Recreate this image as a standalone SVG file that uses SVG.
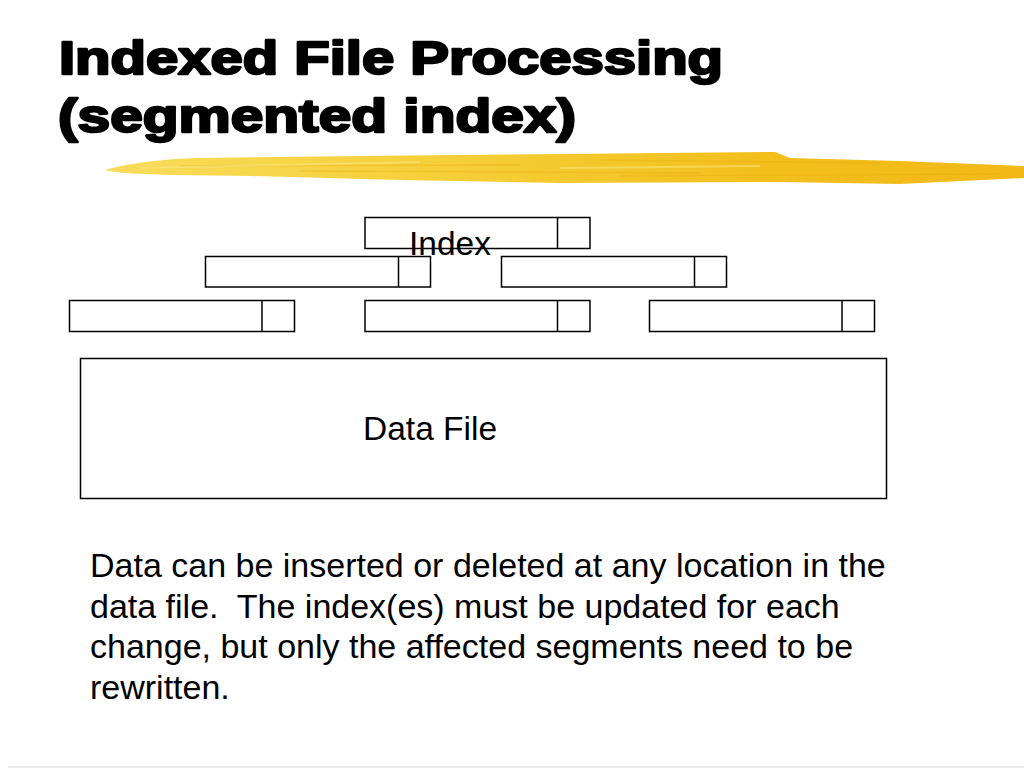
<svg xmlns="http://www.w3.org/2000/svg" width="1024" height="768" viewBox="0 0 1024 768">
  <defs>
    <linearGradient id="swoosh" x1="0" y1="0" x2="1" y2="0">
      <stop offset="0" stop-color="#F8DC5A"/>
      <stop offset="0.35" stop-color="#F6D03A"/>
      <stop offset="0.7" stop-color="#F2C01E"/>
      <stop offset="1" stop-color="#F2B818"/>
    </linearGradient>
  </defs>
  <style>
    .title { font-family: "Liberation Sans", Arial, sans-serif; font-weight: bold; font-size: 47px; fill: #000; stroke: #000; stroke-width: 2.4px; stroke-linejoin: round; }
    .body { font-family: "Liberation Sans", Arial, sans-serif; font-size: 34px; fill: #000; white-space: pre; }
    .label { font-family: "Liberation Sans", Arial, sans-serif; font-size: 33.5px; fill: #000; }
    .box { fill: #fff; stroke: #000; stroke-width: 1.5; }
    .div { stroke: #000; stroke-width: 1.5; fill: none; }
  </style>
  <rect width="1024" height="768" fill="#fff"/>

  <g id="title">
    <text class="title" x="59" y="74" textLength="664" lengthAdjust="spacingAndGlyphs">Indexed File Processing</text>
    <text class="title" x="58" y="132" textLength="518" lengthAdjust="spacingAndGlyphs">(segmented index)</text>
  </g>

  <g id="swoosh">
    <path d="M105,170 C130,163 160,159 200,158 L360,156 L560,154 L775,152 L790,158 L900,161 L1024,166 L1024,178 L900,184 L780,182 L560,183 L400,180 L250,176 L170,175 C140,174 115,173 105,170 Z" fill="url(#swoosh)"/>
    <path d="M180,166 L520,165 M600,160 L880,163 M620,176 L1000,174 M300,171 L700,173" stroke="#E9A90C" stroke-width="1.5" opacity="0.35" fill="none"/>
    <path d="M140,168 L420,162 M560,168 L760,166" stroke="#FBE78A" stroke-width="2" opacity="0.5" fill="none"/>
  </g>

  <g id="index-top">
    <rect class="box" x="365" y="217.5" width="225" height="31"/>
    <line class="div" x1="557.5" y1="217.5" x2="557.5" y2="248.5"/>
  </g>
  <g id="index-mid-left">
    <rect class="box" x="205.5" y="256.5" width="225" height="30.5"/>
    <line class="div" x1="398.5" y1="256.5" x2="398.5" y2="287"/>
  </g>
  <g id="index-mid-right">
    <rect class="box" x="501.5" y="256.5" width="225" height="30.5"/>
    <line class="div" x1="694.5" y1="256.5" x2="694.5" y2="287"/>
  </g>
  <g id="index-bot-1">
    <rect class="box" x="69.5" y="300.5" width="225" height="31"/>
    <line class="div" x1="262" y1="300.5" x2="262" y2="331.5"/>
  </g>
  <g id="index-bot-2">
    <rect class="box" x="365" y="300.5" width="225" height="31"/>
    <line class="div" x1="557.5" y1="300.5" x2="557.5" y2="331.5"/>
  </g>
  <g id="index-bot-3">
    <rect class="box" x="649.5" y="300.5" width="225" height="31"/>
    <line class="div" x1="842" y1="300.5" x2="842" y2="331.5"/>
  </g>
  <g id="index-label">
    <text class="label" x="409" y="255">Index</text>
  </g>

  <g id="data-file">
    <rect class="box" x="80.5" y="358.5" width="806" height="140"/>
    <text class="label" x="363" y="440">Data File</text>
  </g>

  <g id="connectors"></g>

  <g id="description">
    <text class="body" x="90" y="577">Data can be inserted or deleted at any location in the</text>
    <text class="body" x="90" y="618" xml:space="preserve">data file.  The index(es) must be updated for each</text>
    <text class="body" x="90" y="658">change, but only the affected segments need to be</text>
    <text class="body" x="90" y="699">rewritten.</text>
  </g>

  <line x1="8" y1="767" x2="1024" y2="767" stroke="#e6e6e6" stroke-width="1.5"/>
</svg>
